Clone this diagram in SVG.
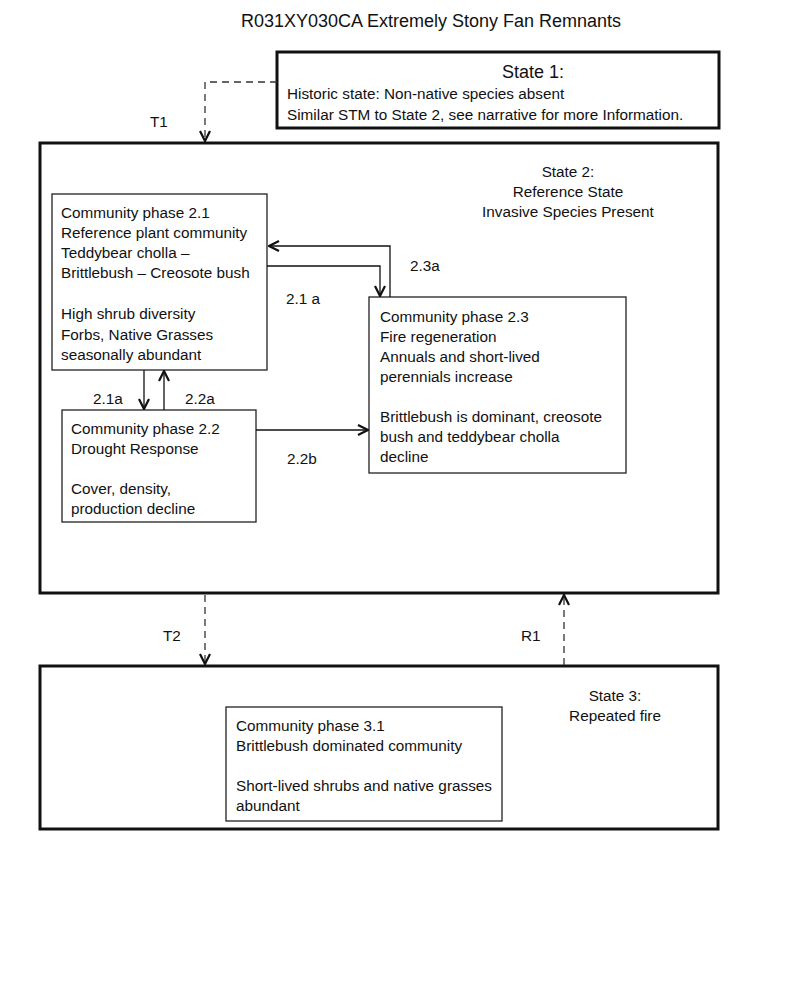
<svg xmlns="http://www.w3.org/2000/svg" width="800" height="984" viewBox="0 0 800 984">
<style>
text{font-family:"Liberation Sans",Arial,sans-serif;font-size:15.3px;fill:#111}
.t{font-size:18px}
.c{text-anchor:middle}
.state{fill:#fff;stroke:#111;stroke-width:3}
.phase{fill:#fff;stroke:#222;stroke-width:1.3}
.ln{fill:none;stroke:#111;stroke-width:1.3}
.dash{fill:none;stroke:#333;stroke-width:1.3;stroke-dasharray:7,5}
</style>
<defs>
<marker id="ah" viewBox="0 0 12 12" refX="11" refY="6" markerWidth="12" markerHeight="12" markerUnits="userSpaceOnUse" orient="auto">
<path d="M1,1 L11,6 L1,11" fill="none" stroke="#111" stroke-width="2.2"/>
</marker>
</defs>
<rect width="800" height="984" fill="#fff"/>
<text class="t c" x="431" y="27">R031XY030CA Extremely Stony Fan Remnants</text>

<g id="state1">
<rect class="state" x="277" y="52" width="442" height="76"/>
<text class="t c" x="533" y="78">State 1:</text>
<text x="287" y="99">Historic state: Non-native species absent</text>
<text x="287" y="120">Similar STM to State 2, see narrative for more Information.</text>
</g>

<g id="state2">
<rect class="state" x="40" y="143" width="678" height="450"/>
<text class="c" x="568" y="177">State 2:</text>
<text class="c" x="568" y="197">Reference State</text>
<text class="c" x="568" y="217">Invasive Species Present</text>
</g>

<g id="phase21">
<rect class="phase" x="52" y="194" width="215" height="176"/>
<text x="61" y="218">Community phase 2.1</text>
<text x="61" y="238">Reference plant community</text>
<text x="61" y="258">Teddybear cholla –</text>
<text x="61" y="278">Brittlebush – Creosote bush</text>
<text x="61" y="319">High shrub diversity</text>
<text x="61" y="340">Forbs, Native Grasses</text>
<text x="61" y="360">seasonally abundant</text>
</g>

<g id="phase22">
<rect class="phase" x="62" y="410" width="194" height="112"/>
<text x="71" y="434">Community phase 2.2</text>
<text x="71" y="454">Drought Response</text>
<text x="71" y="494">Cover, density,</text>
<text x="71" y="514">production decline</text>
</g>

<g id="phase23">
<rect class="phase" x="369" y="297" width="257" height="176"/>
<text x="380" y="322">Community phase 2.3</text>
<text x="380" y="342">Fire regeneration</text>
<text x="380" y="362">Annuals and short-lived</text>
<text x="380" y="382">perennials increase</text>
<text x="380" y="422">Brittlebush is dominant, creosote</text>
<text x="380" y="442">bush and teddybear cholla</text>
<text x="380" y="462">decline</text>
</g>

<g id="state3">
<rect class="state" x="40" y="666" width="678" height="163"/>
<text class="c" x="615" y="701">State 3:</text>
<text class="c" x="615" y="721">Repeated fire</text>
</g>

<g id="phase31">
<rect class="phase" x="226" y="707" width="276" height="114"/>
<text x="236" y="731">Community phase 3.1</text>
<text x="236" y="751">Brittlebush dominated community</text>
<text x="236" y="791">Short-lived shrubs and native grasses</text>
<text x="236" y="811">abundant</text>
</g>

<g id="connectors">
<path class="dash" d="M277,82 H205 V141" marker-end="url(#ah)"/>
<text x="150" y="127">T1</text>
<path class="ln" d="M390,297 V246 H269" marker-end="url(#ah)"/>
<text x="410" y="271">2.3a</text>
<path class="ln" d="M267,266 H380 V296" marker-end="url(#ah)"/>
<text x="286" y="304">2.1 a</text>
<path class="ln" d="M144,370 V409" marker-end="url(#ah)"/>
<text x="93" y="404">2.1a</text>
<path class="ln" d="M164,410 V371" marker-end="url(#ah)"/>
<text x="185" y="404">2.2a</text>
<path class="ln" d="M256,430 H368" marker-end="url(#ah)"/>
<text x="287" y="464">2.2b</text>
<path class="dash" d="M205,595 V664" marker-end="url(#ah)"/>
<text x="163" y="641">T2</text>
<path class="dash" d="M564,665 V595" marker-end="url(#ah)"/>
<text x="521" y="641">R1</text>
</g>
</svg>
